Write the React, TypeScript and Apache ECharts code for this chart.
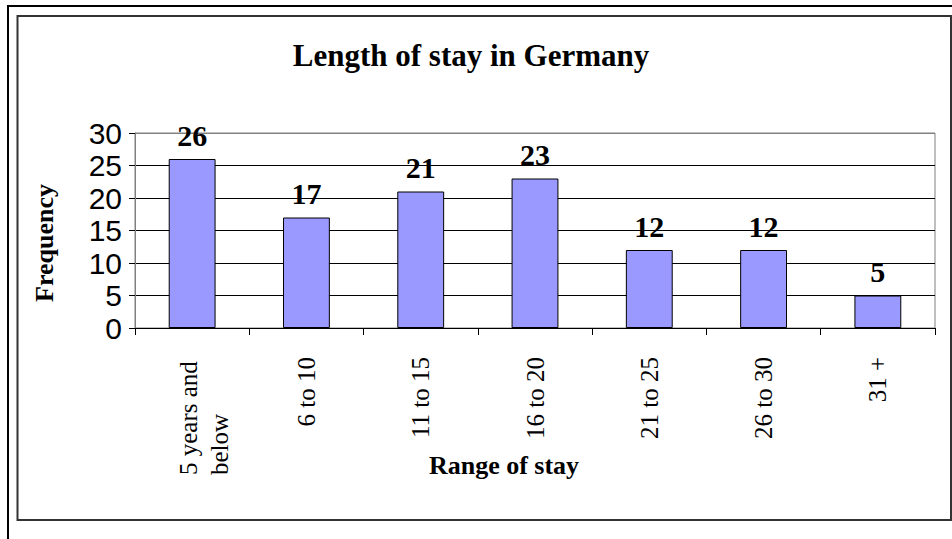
import React, { useEffect, useRef } from "react";
import * as echarts from "echarts";

const categories = ["5 years and\nbelow", "6 to 10", "11 to 15", "16 to 20", "21 to 25", "26 to 30", "31 +"];
const frequency = [26, 17, 21, 23, 12, 12, 5];
const yTicks = { min: 0, max: 30, interval: 5 };
const titleText = "Length of stay in Germany";
const xName = "Range of stay";
const yName = "Frequency";

const SERIF = "'Liberation Serif', 'Times New Roman', serif";
const SANS = "'Liberation Sans', Arial, sans-serif";

export default function App() {
  const ref = useRef<HTMLDivElement>(null);
  useEffect(() => {
    if (!ref.current) return;
    const chart = echarts.init(ref.current, null, { renderer: "svg" });
    chart.setOption({
      animation: false,
      backgroundColor: "#ffffff",
      title: {
        text: titleText,
        left: 466,
        top: 35,
        textAlign: "center",
        textStyle: { fontFamily: SERIF, fontWeight: "bold", fontSize: 31, color: "#000" },
      },
      graphic: [
        {
          type: "rect",
          shape: { x: 8, y: 6, width: 960, height: 560 },
          style: { fill: "none", stroke: "#000", lineWidth: 2 },
          silent: true,
        },
        {
          type: "rect",
          shape: { x: 17.5, y: 16, width: 933.5, height: 504 },
          style: { fill: "none", stroke: "#333", lineWidth: 2 },
          silent: true,
        },
      ],
      grid: {
        left: 135,
        top: 133,
        right: 17,
        bottom: 211,
        show: true,
        borderColor: "#808080",
        borderWidth: 1,
        backgroundColor: "transparent",
      },
      xAxis: {
        type: "category",
        data: categories,
        name: xName,
        nameLocation: "middle",
        nameGap: 124,
        nameMoveOverlap: false,
        nameTextStyle: {
          fontFamily: SERIF,
          fontWeight: "bold",
          fontSize: 26,
          color: "#000",
          padding: [0, 62, 0, 0],
        },
        axisLine: { lineStyle: { color: "#000", width: 1 } },
        axisTick: { show: true, length: 7, inside: false, alignWithLabel: false, lineStyle: { color: "#000" } },
        axisLabel: {
          interval: 0,
          rotate: 90,
          margin: 29,
          fontFamily: SERIF,
          fontSize: 25,
          color: "#000",
          formatter: (v: string, i: number) => {
            if (v.indexOf("\n") >= 0) {
              const lines = v.split("\n");
              return "{sp| }\n" + lines.map((l) => "{w|" + l + "}").join("\n");
            }
            return v;
          },
          rich: {
            sp: { lineHeight: 24, fontSize: 10 },
            w: { width: 118, align: "left", fontFamily: SERIF, fontSize: 25, lineHeight: 31, color: "#000" },
          },
        },
        splitLine: { show: false },
      },
      yAxis: {
        type: "value",
        min: yTicks.min,
        max: yTicks.max,
        interval: yTicks.interval,
        name: yName,
        nameLocation: "middle",
        nameGap: 78,
        nameMoveOverlap: false,
        nameTextStyle: {
          fontFamily: SERIF,
          fontWeight: "bold",
          fontSize: 26,
          color: "#000",
          padding: [0, 25, 0, 0],
        },
        axisLine: { show: true, lineStyle: { color: "#808080", width: 1 } },
        axisTick: { show: true, length: 6, lineStyle: { color: "#000" } },
        axisLabel: { margin: 13, fontFamily: SANS, fontSize: 30, color: "#000" },
        splitLine: {
          show: true,
          lineStyle: { color: ["#000", "#000", "#000", "#000", "#000", "#000", "#808080"], width: 1 },
        },
      },
      series: [
        {
          type: "bar",
          data: frequency,
          barWidth: "41%",
          itemStyle: { color: "#9999FF", borderColor: "#000", borderWidth: 1 },
          label: {
            show: true,
            position: "top",
            distance: 9,
            fontFamily: SERIF,
            fontWeight: "bold",
            fontSize: 30,
            color: "#000",
          },
        },
      ],
    });
    return () => chart.dispose();
  }, []);
  return (
    <div
      ref={ref}
      style={{ position: "absolute", left: 0, top: 0, width: 952, height: 539 }}
    />
  );
}
